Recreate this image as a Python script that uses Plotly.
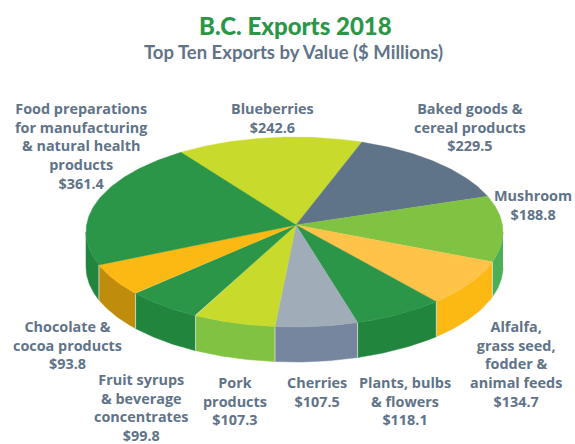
import numpy as np
import plotly.graph_objects as go

CATEGORIES = ["Blueberries", "Baked goods &\ncereal products", "Mushroom",
              "Alfalfa,\ngrass seed,\nfodder &\nanimal feeds", "Plants, bulbs\n& flowers",
              "Cherries", "Pork\nproducts", "Fruit syrups\n& beverage\nconcentrates",
              "Chocolate &\ncocoa products",
              "Food preparations\nfor manufacturing\n& natural health\nproducts"]
VALUES = [242.6, 229.5, 188.8, 134.7, 118.1, 107.5, 107.3, 99.8, 93.8, 361.4]
TOP_COLORS = ["#C8DA2B", "#5F7389", "#80C342", "#FFC34A", "#2B9648",
              "#A1ACB9", "#C8DA2B", "#2B9648", "#FDB913", "#2B9648"]
WALL_COLORS = ["#C8DA2B", "#5F7389", "#4CAE55", "#FDB913", "#21853D",
               "#76869F", "#80C342", "#21853D", "#BF8C0C", "#21853D"]
LABEL_X = [272.5, 469.5, 533, 516, 404.5, 316.5, 235, 141, 67.5, 81]
LABEL_Y = [117.5, 127, 204.5, 364, 401, 392, 401, 407.5, 345, 145.5]

TITLE = "B.C. Exports 2018"
SUBTITLE = "Top Ten Exports by Value ($ Millions)"

CX, CY, RX, RY, DEPTH = 294.5, 232.0, 208.5, 95.0, 35.0
APEX = (296.0, 225.0)
START = -33.0
HEAD_FONT = "Lato"
LABEL_FONT = "Open Sans"
INK = "#5F7389"


def rim(deg, drop=0.0):
    a = np.radians(deg)
    return CX + RX * np.sin(a), CY - RY * np.cos(a) + drop


fig = go.Figure()
total = sum(VALUES)
edges = START + np.concatenate([[0], np.cumsum(VALUES)]) / total * 360

# side walls: only the front half of the rim (90..270 degrees) is visible
for i in range(len(VALUES)):
    lo, hi = max(edges[i], 90.0), min(edges[i + 1], 270.0)
    if hi <= lo:
        continue
    t = np.linspace(lo, hi, 40)
    x1, y1 = rim(t)
    x2, y2 = rim(t[::-1], DEPTH)
    fig.add_trace(go.Scatter(x=np.r_[x1, x2], y=np.r_[y1, y2], fill="toself", mode="lines",
                             fillcolor=WALL_COLORS[i], line=dict(color=WALL_COLORS[i], width=0.5),
                             hoverinfo="skip", showlegend=False))

# pale seams between the wall segments
sx, sy = [], []
for e in edges[:-1]:
    d = e % 360
    if 90 < d < 270:
        x, y = rim(d)
        sx += [x, x, None]
        sy += [y, y + DEPTH, None]
fig.add_trace(go.Scatter(x=sx, y=sy, mode="lines", line=dict(color="#DDE5DD", width=0.8),
                         hoverinfo="skip", showlegend=False))

# top face
for i in range(len(VALUES)):
    t = np.linspace(edges[i], edges[i + 1], 80)
    x, y = rim(t)
    fig.add_trace(go.Scatter(x=np.r_[APEX[0], x, APEX[0]], y=np.r_[APEX[1], y, APEX[1]],
                             fill="toself", mode="lines", fillcolor=TOP_COLORS[i],
                             line=dict(color=TOP_COLORS[i], width=0.4),
                             name=CATEGORIES[i].replace("\n", " "), text=f"${VALUES[i]}",
                             hoverinfo="name+text", showlegend=False))

annotations = [
    dict(x=295, y=25, text=TITLE, font=dict(size=24, color="#2B9648", family=HEAD_FONT, weight=900)),
    dict(x=293, y=52, text=SUBTITLE, font=dict(size=18.5, color=INK, family=HEAD_FONT, weight=700)),
]
for name, val, lx, ly in zip(CATEGORIES, VALUES, LABEL_X, LABEL_Y):
    annotations.append(dict(x=lx, y=ly, text=name.replace("\n", "<br>") + f"<br>${val}",
                            font=dict(size=14.4, color=INK, family=LABEL_FONT, weight=700)))
for a in annotations:
    a.update(xref="x", yref="y", showarrow=False, xanchor="center", yanchor="middle", align="center")

fig.update_layout(
    width=575, height=444, autosize=False, margin=dict(l=0, r=0, t=0, b=0),
    paper_bgcolor="white", plot_bgcolor="white", annotations=annotations,
    xaxis=dict(range=[0, 575], visible=False, fixedrange=True),
    yaxis=dict(range=[444, 0], visible=False, fixedrange=True),
)
fig.write_html("out.html", config={"displayModeBar": False},
               post_script="document.body.style.margin='0';document.body.style.overflow='hidden';")
